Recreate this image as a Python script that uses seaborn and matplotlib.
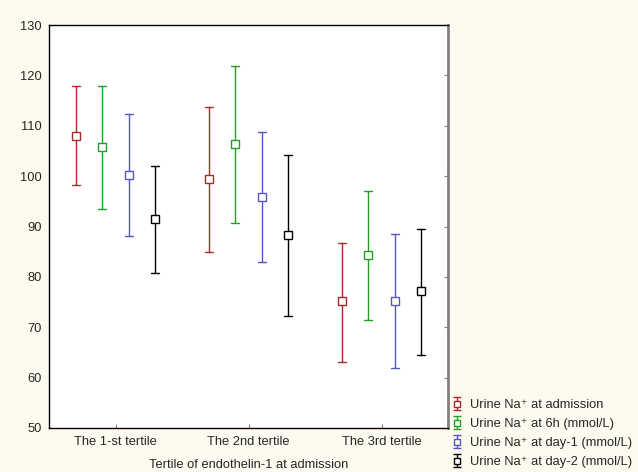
import numpy as np
import pandas as pd
import seaborn as sns
import matplotlib.pyplot as plt

# categories and series
tertiles = ["The 1-st tertile", "The 2nd tertile", "The 3rd tertile"]
series = ["Urine Na\u207A at admission",
          "Urine Na\u207A at 6h (mmol/L)",
          "Urine Na\u207A at day-1 (mmol/L)",
          "Urine Na\u207A at day-2 (mmol/L)"]
colors = ["#A52A2A", "#20A020", "#5555C4", "#000000"]

# mean and interval (lower, upper)
adm_mean = [108.0, 99.4, 75.2]
adm_low = [98.2, 84.9, 63.2]
adm_high = [117.9, 113.7, 86.7]

h6_mean = [105.7, 106.4, 84.4]
h6_low = [93.5, 90.6, 71.4]
h6_high = [117.9, 121.9, 97.0]

d1_mean = [100.2, 95.9, 75.3]
d1_low = [88.1, 83.0, 61.9]
d1_high = [112.4, 108.7, 88.6]

d2_mean = [91.4, 88.3, 77.2]
d2_low = [80.7, 72.2, 64.5]
d2_high = [102.1, 104.1, 89.5]

groups = [(adm_low, adm_mean, adm_high),
          (h6_low, h6_mean, h6_high),
          (d1_low, d1_mean, d1_high),
          (d2_low, d2_mean, d2_high)]

# long table: low / mean / high rows, median gives the mean, min-max gives the bar
rows = []
for name, (lo, mid, hi) in zip(series, groups):
    for i, t in enumerate(tertiles):
        for v in (lo[i], mid[i], hi[i]):
            rows.append({"tertile": t, "series": name, "value": v})
df = pd.DataFrame(rows)

sns.set_style("ticks")
plt.rcParams["font.family"] = ["Liberation Sans", "DejaVu Sans"]

fs = 9.3
fig = plt.figure(figsize=(6.38, 4.72), dpi=100, facecolor="#FFFAF0")
ax = fig.add_axes([49 / 638, 1 - 428 / 472, 399 / 638, 403 / 472])
ax.set_facecolor("white")

sns.pointplot(data=df, x="tertile", y="value", hue="series",
              order=tertiles, hue_order=series, palette=colors,
              estimator="median", errorbar=lambda v: (v.min(), v.max()),
              dodge=0.6, markers="s", linestyle="none", capsize=0.06,
              markersize=5.5, markerfacecolor="white", markeredgewidth=1,
              linewidth=1, zorder=3,
              err_kws={"linewidth": 1, "zorder": 2},
              legend=False, ax=ax)

ax.set_xlim(-0.5, 2.5)
ax.set_ylim(50, 130)
ax.set_yticks(np.arange(50, 131, 10))
ax.set_ylabel("")
ax.set_xlabel("Tertile of endothelin-1 at admission", fontsize=fs, labelpad=8)

for s in ["left", "top", "bottom"]:
    ax.spines[s].set_color("black")
    ax.spines[s].set_linewidth(1)
ax.spines["right"].set_color("#808080")
ax.spines["right"].set_linewidth(2)

ax.tick_params(axis="y", left=False, right=True, direction="in", length=3,
               color="#808080", labelleft=True, labelsize=fs, pad=5)
ax.tick_params(axis="x", bottom=True, top=False, direction="in", length=3,
               color="#808080", labelsize=fs, pad=6)

# legend with errorbar icons
handles = []
for name, c in zip(series, colors):
    h = ax.errorbar([np.nan], [np.nan], yerr=[[1], [1]], fmt="s", color=c,
                    mfc="white", ms=5, mew=1, capsize=3, lw=1, label=name)
    handles.append(h)
fig.legend(handles, series, loc="upper left", bbox_to_anchor=(451 / 638, 1 - 399 / 472),
           frameon=False, fontsize=fs, numpoints=1, handlelength=1.0,
           handletextpad=0.5, labelspacing=0.55, borderaxespad=0, borderpad=0)

fig.savefig("out.png", dpi=100, facecolor=fig.get_facecolor())
